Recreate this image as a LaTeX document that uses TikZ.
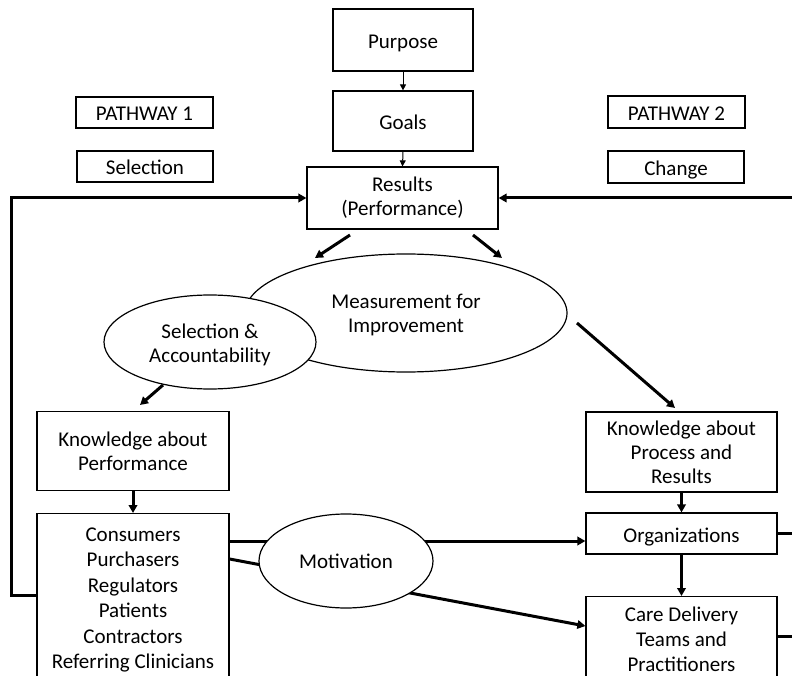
\documentclass[tikz,border=0pt]{standalone}
\usepackage{fontspec}
\setmainfont{Carlito}
\usetikzlibrary{arrows.meta,shapes.geometric}
\newcommand\diagfont{\fontsize{21}{24}\selectfont}
\newcommand\consfont{\fontsize{21}{25.5}\selectfont}
\newcommand\carefont{\fontsize{21}{25}\selectfont}
\begin{document}
\begin{tikzpicture}[x=1pt,y=-1pt,
  box/.style={draw,line width=1.2pt,align=center,inner sep=0pt,font=\diagfont},
  oneline/.style={text height=17pt,text depth=0pt},
  oval/.style={draw,ellipse,line width=1.2pt,align=center,inner sep=0pt,fill=white,font=\diagfont},
  thinarrow/.style={line width=1pt,-{Triangle[length=6pt,width=6pt]}},
  thk/.style={line width=3pt,-{Triangle[length=8pt,width=8.5pt]}},
  thkline/.style={line width=3pt}]
\useasboundingbox (0,0) rectangle (792,676);

% top chain
\node[box,oneline,minimum width=140pt,minimum height=62pt] (purpose) at (403,40) {Purpose};
\node[box,oneline,minimum width=140pt,minimum height=60pt] (goals) at (403,121) {Goals};
\node[box,minimum width=191pt,minimum height=62pt] (results) at (402.5,198) {Results\\(Performance)};
\draw[thinarrow] (purpose.south) -- (goals.north);
\draw[thinarrow] (goals.south) -- (results.north);

% pathway labels
\node[box,oneline,minimum width=137pt,minimum height=31pt] (path1) at (144.5,112.5) {PATHWAY 1};
\node[box,oneline,minimum width=136pt,minimum height=31pt] (selbox) at (145,166.5) {Selection};
\node[box,oneline,minimum width=137pt,minimum height=32pt] (path2) at (676.5,112) {PATHWAY 2};
\node[box,oneline,minimum width=136pt,minimum height=32pt] (change) at (676,167) {Change};

% ellipses
\node[oval,text height=38pt,text depth=0pt,minimum width=322pt,minimum height=118pt] (meas) at (406,313) {Measurement for\\Improvement};
\node[oval,text height=40pt,text depth=0pt,minimum width=212pt,minimum height=94pt] (selacc) at (210,342) {Selection \&\\Accountability};

% knowledge boxes
\node[box,minimum width=192pt,minimum height=79pt] (kperf) at (133,451) {Knowledge about\\Performance};
\node[box,minimum width=191pt,minimum height=80pt] (kproc) at (681.5,452) {Knowledge about\\Process and\\Results};

% lower boxes
\node[box,anchor=north,minimum width=192pt,inner ysep=14pt,font=\consfont] (cons) at (133,513)
  {Consumers\\Purchasers\\Regulators\\Patients\\Contractors\\Referring Clinicians};
\node[box,oneline,minimum width=191pt,minimum height=41pt] (orgs) at (681.5,533.5) {Organizations};
\node[box,anchor=north,minimum width=191pt,inner ysep=10pt,font=\carefont] (care) at (681.5,596)
  {Care Delivery\\Teams and\\Practitioners};

% arrows from results and ellipses
\coordinate (a1s) at (350,235);
\coordinate (a1e) at (315,258);
\coordinate (a2s) at (473,235);
\coordinate (a2e) at (502,258);
\coordinate (a3s) at (163,385);
\coordinate (a3e) at (140,405);
\coordinate (a4s) at (577,323);
\coordinate (a4e) at (675,408);
\draw[thk] (a1s) -- (a1e);
\draw[thk] (a2s) -- (a2e);
\draw[thk] (a3s) -- (a3e);
\draw[thk] (a4s) -- (a4e);

% vertical arrows
\draw[thk] (kperf.south) -- (cons.north);
\draw[thk] (kproc.south) -- (orgs.north);
\draw[thk] (orgs.south) -- (care.north);

% feedback loops
\coordinate (lp) at (11,595);
\coordinate (rx) at (800,0);
\coordinate (cl) at (0,636);
\draw[thk] (cons.west |- lp) -- (lp) |- (results.west);
\draw[thk] (orgs.east) -- (orgs.east -| rx) |- (results.east);
\draw[thkline] (care.east |- cl) -- (rx |- cl);

% motivation connectors
\coordinate (m1) at (0,541);
\coordinate (m2s) at (0,559);
\coordinate (m2e) at (0,626);
\draw[thk] (cons.east |- m1) -- (orgs.west |- m1);
\draw[thk] (cons.east |- m2s) -- (care.west |- m2e);
\node[oval,minimum width=174pt,minimum height=94pt] (motiv) at (346,561) {Motivation};
\end{tikzpicture}
\end{document}
